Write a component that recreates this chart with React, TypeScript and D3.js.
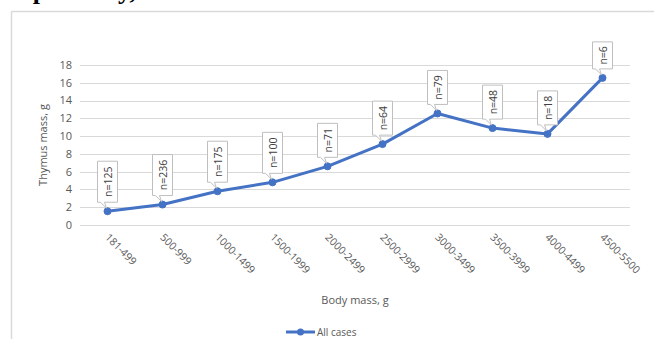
import React from "react";
import * as d3 from "d3";

const categories = ["181-499", "500-999", "1000-1499", "1500-1999", "2000-2499", "2500-2999", "3000-3499", "3500-3999", "4000-4499", "4500-5500"];
const thymusMass = [1.55, 2.3, 3.8, 4.8, 6.6, 9.1, 12.55, 10.9, 10.25, 16.55];
const caseCounts = ["n=125", "n=236", "n=175", "n=100", "n=71", "n=64", "n=79", "n=48", "n=18", "n=6"];
const yTicks = [0, 2, 4, 6, 8, 10, 12, 14, 16, 18];

const W = 654;
const H = 339;
const FONT = "'Open Sans', 'Noto Sans', sans-serif";
const BLUE = "#4472C4";

export default function App() {
  const x = d3.scalePoint<string>().domain(categories).range([80, 630]).padding(0.5);
  const y = d3.scaleLinear().domain([0, 18]).range([225, 65]);
  const line = d3
    .line<number>()
    .x((_, i) => x(categories[i]) as number)
    .y((d) => y(d));

  return (
    <svg width={W} height={H} style={{ position: "absolute", left: 0, top: 0, background: "#fff" }}>
      <rect x={0} y={0} width={W} height={H} fill="#fff" />
      {/* cut-off document text */}
      <text x={0} y={-1} fontFamily="'Liberation Serif', serif" fontWeight="bold" fontSize={26} fill="#000">
        respectively,
      </text>
      {/* chart frame */}
      <line x1={11.5} y1={11.5} x2={W} y2={11.5} stroke="#d9d9d9" strokeWidth={1.5} />
      <line x1={11.5} y1={11.5} x2={11.5} y2={H} stroke="#d9d9d9" strokeWidth={1.5} />

      {/* gridlines and y ticks */}
      {yTicks.map((t) => (
        <g key={t}>
          <line x1={80} x2={630} y1={Math.round(y(t)) + 0.5} y2={Math.round(y(t)) + 0.5} stroke="#d9d9d9" strokeWidth={1} />
          <text x={72} y={y(t)} dy="0.35em" textAnchor="end" fontFamily={FONT} fontSize={11} fill="#595959">
            {t}
          </text>
        </g>
      ))}

      {/* y title */}
      <text
        transform={`translate(47,145) rotate(-90)`}
        textAnchor="middle"
        fontFamily={FONT}
        fontSize={11}
        fill="#595959"
      >
        Thymus mass, g
      </text>

      {/* x tick labels */}
      {categories.map((c) => (
        <text
          key={c}
          transform={`translate(${(x(c) as number) - 3},${238}) rotate(45)`}
          textAnchor="start"
          fontFamily={FONT}
          fontSize={10.5}
          fill="#595959"
        >
          {c}
        </text>
      ))}

      {/* x title */}
      <text x={355} y={304} textAnchor="middle" fontFamily={FONT} fontSize={11} fill="#595959">
        Body mass, g
      </text>

      {/* series line */}
      <path d={line(thymusMass) as string} fill="none" stroke={BLUE} strokeWidth={3} strokeLinejoin="round" strokeLinecap="round" />
      {thymusMass.map((v, i) => (
        <circle key={i} cx={x(categories[i]) as number} cy={y(v)} r={3.5} fill={BLUE} stroke={BLUE} strokeWidth={1} />
      ))}

      {/* callout labels */}
      {thymusMass.map((v, i) => {
        const cx = x(categories[i]) as number;
        const py = y(v);
        const label = caseCounts[i];
        const h = label.length * 7 + 6;
        const bw = 20;
        const bottom = py - 9;
        const top = bottom - h;
        const left = cx - bw / 2;
        const right = cx + bw / 2;
        const d = `M${left},${top} H${right} V${bottom} H${left + 7} L${cx - 1},${py - 3} L${left + 3},${bottom} H${left} Z`;
        return (
          <g key={label}>
            <path d={d} fill="#fff" stroke="#bfbfbf" strokeWidth={1} />
            <text
              transform={`translate(${cx + 0.5},${(top + bottom) / 2}) rotate(-90)`}
              textAnchor="middle"
              dy="0.35em"
              fontFamily={FONT}
              fontSize={10.5}
              fill="#404040"
            >
              {label}
            </text>
          </g>
        );
      })}

      {/* legend */}
      <line x1={286} x2={315} y1={332} y2={332} stroke={BLUE} strokeWidth={3} />
      <circle cx={300.5} cy={332} r={3.5} fill={BLUE} />
      <text x={317} y={335.5} fontFamily={FONT} fontSize={10} fill="#595959">
        All cases
      </text>
    </svg>
  );
}
